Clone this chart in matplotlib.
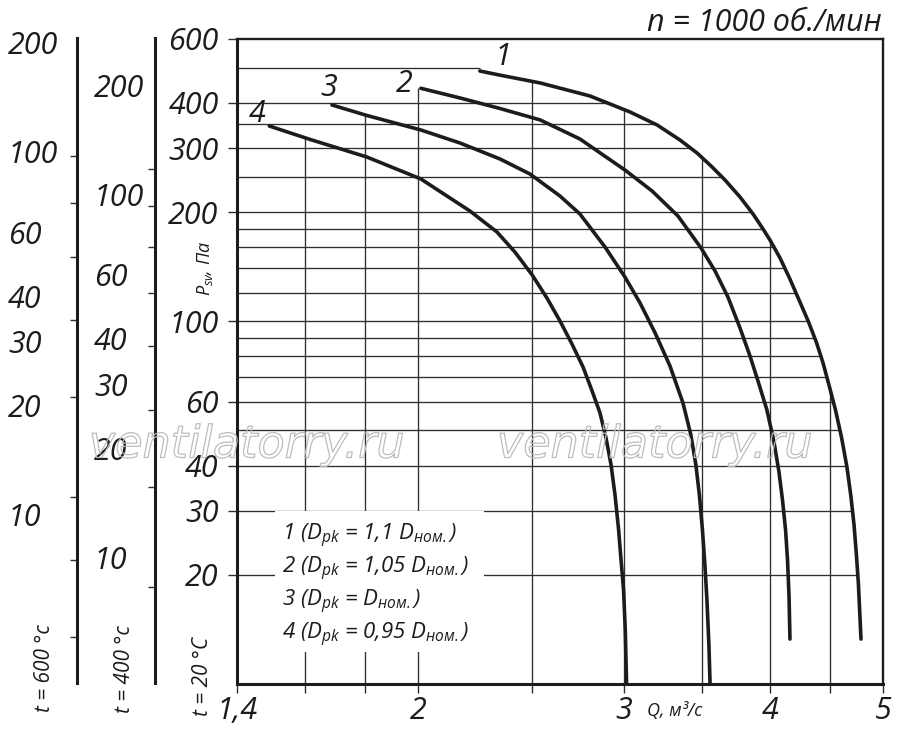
import numpy as np
import matplotlib
matplotlib.use("Agg")
import matplotlib.pyplot as plt
from matplotlib import patheffects, transforms
from matplotlib.patches import Rectangle
from matplotlib.ticker import FixedLocator, FixedFormatter, NullLocator, NullFormatter

FONT = "Open Sans"
plt.rcParams["font.family"] = [FONT, "DejaVu Sans"]
plt.rcParams["font.style"] = "italic"
plt.rcParams["mathtext.fontset"] = "custom"
plt.rcParams["mathtext.it"] = FONT + ":italic"
plt.rcParams["mathtext.rm"] = FONT + ":italic"
plt.rcParams["mathtext.default"] = "it"

# ---------------- data ----------------
curve1_q = [2.258, 2.349, 2.543, 2.805, 3.035, 3.202, 3.349, 3.464, 3.568, 3.660, 3.770, 3.868, 3.940, 3.999,
            4.079, 4.156, 4.235, 4.315, 4.384, 4.440, 4.497, 4.550, 4.604, 4.654, 4.691, 4.720, 4.742, 4.761, 4.785]
curve1_p = [489.7, 477.0, 453.9, 417.9, 377.6, 347.6, 316.1, 291.0, 266.3, 245.2, 220.1, 197.6, 180.8, 167.6,
            149.5, 131.6, 114.5, 99.6, 87.2, 76.8, 65.9, 57.0, 48.0, 39.7, 32.9, 27.4, 22.7, 18.8, 13.3]

curve2_q = [2.010, 2.171, 2.349, 2.543, 2.750, 3.005, 3.170, 3.336, 3.491, 3.589, 3.681, 3.770, 3.845, 3.913,
            3.975, 4.031, 4.071, 4.099, 4.124, 4.140, 4.152, 4.160]
curve2_p = [438.8, 412.7, 386.0, 358.9, 318.1, 261.2, 228.7, 195.1, 159.3, 137.6, 116.7, 95.8, 80.2, 67.2,
            57.0, 46.5, 38.4, 32.2, 26.6, 22.0, 17.6, 13.3]

curve3_q = [1.687, 1.807, 2.010, 2.171, 2.349, 2.492, 2.644, 2.750, 2.889, 3.005, 3.096, 3.189, 3.284, 3.369,
            3.422, 3.456, 3.480, 3.501, 3.518, 3.532, 3.546, 3.554]
curve3_p = [394.7, 369.3, 336.8, 310.1, 280.2, 254.7, 221.5, 197.6, 160.3, 132.5, 112.3, 92.9, 75.3, 59.6,
            48.6, 40.2, 33.2, 26.6, 21.3, 17.1, 12.8, 10.0]

curve4_q = [1.491, 1.616, 1.807, 2.010, 2.214, 2.335, 2.419, 2.503, 2.577, 2.644, 2.707, 2.767, 2.816, 2.861,
            2.895, 2.924, 2.947, 2.968, 2.982, 2.997, 3.007, 3.015]
curve4_p = [345.4, 317.1, 283.7, 246.8, 201.4, 176.3, 155.3, 134.2, 115.9, 100.2, 86.6, 74.8, 64.4, 55.9,
            47.7, 40.2, 33.2, 26.6, 22.0, 18.2, 14.1, 10.0]

curve_labels = ["1", "2", "3", "4"]
legend_lines = [
    "1 ($D_{pk}$ = 1,1 $D_{ном.}$)",
    "2 ($D_{pk}$ = 1,05 $D_{ном.}$)",
    "3 ($D_{pk}$ = $D_{ном.}$)",
    "4 ($D_{pk}$ = 0,95 $D_{ном.}$)",
]

x_major = [1.4, 2, 3, 4, 5]
x_major_labels = ["1,4", "2", "3", "4", "5"]
x_minor = [1.6, 1.8, 2.5, 3.5, 4.5]
x_grid = [1.6, 1.8, 2, 2.5, 3, 3.5, 4, 4.5]

y_ticks = [600, 400, 300, 200, 100, 60, 40, 30, 20]
y_tick_labels = ["600", "400", "300", "200", "100", "60", "40", "30", "20"]
y_grid = [500, 400, 350, 300, 250, 200, 180, 160, 140, 120, 100, 90, 80, 70, 60, 50, 40, 30, 20]

# auxiliary temperature scales: factor = P(t) / P(20 °C)
t600_factor = 0.343
t600_labels = [200, 100, 60, 40, 30, 20, 10]
t600_ticks = [97.1, 72.2, 51.3, 34.4, 21.1, 11.2, 7.49, 4.59]
t400_factor = 0.45
t400_labels = [200, 100, 60, 40, 30, 20, 10]
t400_ticks = [117.6, 93.1, 71.8, 53.4, 38.1, 25.5, 15.6, 8.26]

title = "n = 1000 об./мин"
x_title = "Q, м³/с"
y_title = "$P_{sv}$, Па"
t_titles = ["t = 600 °c", "t = 400 °c", "t = 20 °C"]
watermark = "ventilatorry.ru"

# ---------------- figure ----------------
W, H = 900, 730
fig = plt.figure(figsize=(W / 100, H / 100), dpi=100)

AX_L, AX_R, AX_T, AX_B = 237.3, 883.3, 39, 684
ax = fig.add_axes([AX_L / W, 1 - AX_B / H, (AX_R - AX_L) / W, (AX_B - AX_T) / H])
ax.set_xscale("log")
ax.set_yscale("log")
ax.set_xlim(1.4, 5)
ax.set_ylim(10, 600)

ink = "#1c1c1c"
gridc = "#2e2e2e"

for s in ["left", "bottom"]:
    ax.spines[s].set_linewidth(2.2)
    ax.spines[s].set_color(ink)
for s in ["top", "right"]:
    ax.spines[s].set_linewidth(1.7)
    ax.spines[s].set_color(ink)

ax.xaxis.set_major_locator(FixedLocator(x_major))
ax.xaxis.set_major_formatter(FixedFormatter(x_major_labels))
ax.xaxis.set_minor_locator(FixedLocator(x_minor))
ax.xaxis.set_minor_formatter(NullFormatter())
ax.yaxis.set_major_locator(FixedLocator(y_ticks))
ax.yaxis.set_major_formatter(FixedFormatter(y_tick_labels))
ax.yaxis.set_minor_locator(NullLocator())
ax.tick_params(axis="x", which="both", direction="out", length=6.5, width=1.0,
               color=gridc, pad=2, labelsize=22, labelcolor=ink)
ax.tick_params(axis="y", which="major", direction="out", length=6.5, width=1.0,
               color=gridc, pad=7, labelsize=22, labelcolor=ink)

curves_q = [curve1_q, curve2_q, curve3_q, curve4_q]
curves_p = [curve1_p, curve2_p, curve3_p, curve4_p]

# grid bounded by the curves
lq1 = np.log10(curve1_q)
lp1 = np.log10(curve1_p)
for P in y_grid:
    q_end = 10 ** np.interp(np.log10(P), lp1[::-1], lq1[::-1])
    ax.plot([1.4, q_end], [P, P], color=gridc, lw=0.95, zorder=1, solid_capstyle="butt")

for Q in x_grid:
    tops = []
    for cq, cp in zip(curves_q, curves_p):
        if cq[0] <= Q * 1.01 and Q <= cq[-1]:
            tops.append(10 ** np.interp(np.log10(Q), np.log10(cq), np.log10(cp)))
    if tops:
        ax.plot([Q, Q], [10, max(tops)], color=gridc, lw=0.95, zorder=1, solid_capstyle="butt")

# curves
offsets = [(23, 14), (-17, 4), (-3, 17), (-12, 11.5)]
for cq, cp, lab, off in zip(curves_q, curves_p, curve_labels, offsets):
    ax.plot(cq, cp, color=ink, lw=2.6, zorder=3, solid_capstyle="round", solid_joinstyle="round")
    ax.annotate(lab, (cq[0], cp[0]), xytext=off, textcoords="offset pixels",
                ha="center", va="center", fontsize=22, color=ink, zorder=4)

# legend box (white background over grid)
fig_px = transforms.Affine2D().scale(1.0 / W, -1.0 / H).translate(0, 1) + fig.transFigure
ax.add_patch(Rectangle((275, 511), 209, 141, transform=fig_px, facecolor="white",
                       edgecolor="none", zorder=2, clip_on=False))
for i, line in enumerate(legend_lines):
    fig.text(281.7 / W, 1 - (540 + 33 * i) / H, line, fontsize=16, color=ink,
             ha="left", va="baseline", zorder=5)

# watermark
for cx in [247, 655]:
    fig.text(cx / W, 1 - 445 / H, watermark, fontsize=32, ha="center", va="center",
             family="DejaVu Sans", style="oblique", color="none", zorder=6,
             path_effects=[patheffects.Stroke(linewidth=0.9, foreground="#bdbdbd")])

# titles
fig.text(882 / W, 1 - 31 / H, title, fontsize=22, ha="right", va="baseline", color=ink)
fig.text(647 / W, 1 - 716 / H, x_title, fontsize=13, ha="left", va="baseline", color=ink)
fig.text(205 / W, 1 - 268 / H, y_title, fontsize=13, rotation=90, ha="center", va="center", color=ink)
for xc, yc, t in zip([45, 124, 203], [668, 669, 676], t_titles):
    fig.text(xc / W, 1 - yc / H, t, fontsize=15, rotation=90, ha="center", va="center", color=ink)

# auxiliary temperature scales
for x_px, factor, ticks, labels, lab_x in [
    (77.3, t600_factor, t600_ticks, t600_labels, 8),
    (155.3, t400_factor, t400_ticks, t400_labels, 94),
]:
    axa = fig.add_axes([x_px / W, 1 - 683 / H, 0.0005, (683 - 38) / H])
    axa.set_yscale("log")
    axa.set_ylim(10 * factor, 600 * factor)
    axa.patch.set_visible(False)
    for s in ["right", "top", "bottom"]:
        axa.spines[s].set_visible(False)
    axa.spines["left"].set_linewidth(2.2)
    axa.spines["left"].set_color(ink)
    axa.set_xticks([])
    axa.yaxis.set_major_locator(FixedLocator(ticks))
    axa.yaxis.set_major_formatter(NullFormatter())
    axa.yaxis.set_minor_locator(NullLocator())
    axa.tick_params(axis="y", which="major", direction="out", length=5, width=1.0, color=gridc)
    tr = transforms.blended_transform_factory(fig.transFigure, axa.transData)
    for v in labels:
        axa.text(lab_x / W, v, str(v), transform=tr, ha="left", va="center_baseline",
                 fontsize=22, color=ink, clip_on=False)

fig.savefig("out.png", dpi=100)
